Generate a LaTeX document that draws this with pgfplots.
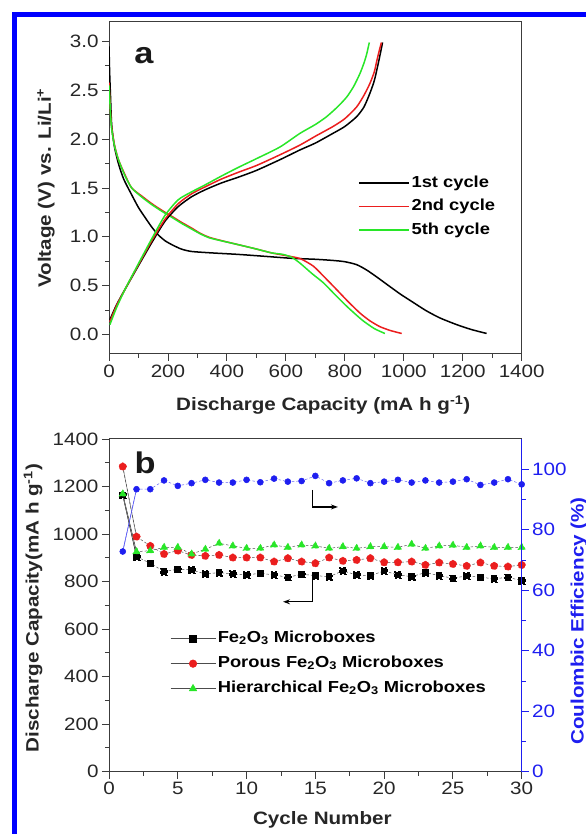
\documentclass[border=0pt]{standalone}
\usepackage{fontspec}
\setmainfont{Liberation Sans}[FakeStretch=1.15]
\usepackage{pgfplots}
\pgfplotsset{compat=1.18}
\usetikzlibrary{arrows.meta}

\definecolor{cred}{RGB}{235,30,30}
\definecolor{cgreen}{RGB}{40,230,40}
\definecolor{cblue}{RGB}{30,30,240}
\definecolor{axgray}{RGB}{60,60,60}
\definecolor{frameblue}{RGB}{0,0,255}

\pgfplotsset{
  panel/.style={
    scale only axis, width=412.7bp, anchor=south west,
    axis line style={axgray, line width=1bp},
    tick style={axgray, line width=0.9bp},
    major tick length=7bp, minor tick length=4bp,
    tick align=outside,
    xtick pos=bottom, ytick pos=left,
    tick label style={font=\fontsize{18}{20}\selectfont, text=black!85},
    label style={font=\fontsize{18}{20}\selectfont\bfseries, text=black!85},
    /pgf/number format/assume math mode=true,
    /pgf/number format/1000 sep={},
  },
  cyc/.style={line width=0.5bp, gray!60!black, dash pattern=on 2.5bp off 2bp,
    mark options={solid}},
}

\begin{document}
\begin{tikzpicture}
\useasboundingbox (0,0) rectangle (586bp,834bp);
\draw[frameblue, line width=5bp] (14.5bp,-20bp) -- (14.5bp,819bp) -- (610bp,819bp);

% ---------- panel a ----------
\begin{axis}[panel, height=332bp, at={(109bp,480bp)},
  xmin=0, xmax=1400, ymin=-0.2, ymax=3.2,
  xtick={0,200,...,1400}, minor x tick num=1,
  ytick={0,0.5,...,3}, minor y tick num=1,
  yticklabel style={/pgf/number format/.cd, fixed, fixed zerofill, precision=1},
  xlabel={Discharge Capacity (mA h g\textsuperscript{-1})},
  ylabel={Voltage (V) vs. Li/Li\textsuperscript{+}},
  xlabel style={at={(axis description cs:0.519,-0.154)}, anchor=center},
  ylabel style={at={(axis description cs:-0.153,0.5)}, anchor=center},
  legend style={at={(axis description cs:0.603,0.545)}, anchor=north west,
    draw=none, fill=none, inner sep=0pt, row sep=4bp,
    font=\fontsize{16}{18}\selectfont\bfseries,
    nodes={text height=12bp, text depth=3.5bp, inner sep=2bp}},
  legend cell align=left,
  legend image code/.code={\draw[#1] (0bp,0bp) -- (50bp,0bp);},
  every axis plot/.append style={line width=1.5bp, smooth, tension=0.4},
]
\addplot[black] coordinates {
(0,2.95)(2,2.7)(5,2.45)(9,2.15)(18,1.93)(32,1.75)(50,1.59)(77,1.43)(100,1.30)
(122,1.20)(145,1.10)(167,1.02)(190,0.96)(213,0.92)(245,0.875)(280,0.85)(350,0.835)
(438,0.82)(530,0.80)(619,0.78)(700,0.77)(760,0.758)(800,0.745)(840,0.715)(874,0.66)
(910,0.585)(953,0.49)(990,0.41)(1031,0.33)(1075,0.245)(1122,0.17)(1180,0.10)
(1230,0.05)(1281,0.01)};
\addlegendentry{1st cycle}
\addplot[cred] coordinates {
(0,2.58)(3,2.4)(8,2.15)(18,1.95)(32,1.79)(55,1.63)(77,1.50)(110,1.42)(145,1.34)
(180,1.27)(213,1.21)(245,1.15)(280,1.09)(310,1.035)(340,0.995)(380,0.962)(438,0.92)(500,0.875)
(552,0.835)(614,0.80)(650,0.775)(693,0.70)(730,0.59)(772,0.46)(810,0.34)(851,0.22)
(885,0.14)(919,0.08)(955,0.04)(993,0.01)};
\addlegendentry{2nd cycle}
\addplot[cgreen] coordinates {
(0,2.55)(3,2.38)(8,2.13)(18,1.94)(32,1.79)(55,1.62)(77,1.50)(110,1.41)(145,1.33)
(180,1.26)(213,1.20)(245,1.14)(280,1.08)(310,1.03)(340,0.99)(380,0.96)(438,0.92)(500,0.875)
(552,0.835)(590,0.82)(620,0.79)(648,0.73)(690,0.62)(727,0.53)(766,0.41)(806,0.29)
(835,0.21)(862,0.14)(900,0.06)(936,0.01)};
\addlegendentry{5th cycle}
\addplot[black, forget plot] coordinates {
(3,0.15)(25,0.30)(54,0.46)(99,0.70)(145,0.94)(190,1.16)(235,1.31)(280,1.41)
(325,1.48)(380,1.55)(438,1.61)(500,1.68)(580,1.79)(648,1.89)(700,1.96)(760,2.06)
(800,2.13)(840,2.23)(865,2.33)(885,2.47)(900,2.60)(913,2.77)(922,2.90)(928,2.99)};
\addplot[cred, forget plot] coordinates {
(3,0.13)(25,0.29)(54,0.46)(99,0.71)(145,0.96)(190,1.18)(235,1.34)(280,1.44)
(325,1.51)(380,1.59)(438,1.66)(500,1.73)(580,1.84)(648,1.94)(700,2.03)(760,2.13)
(800,2.21)(840,2.33)(865,2.45)(885,2.57)(900,2.69)(909,2.81)(918,2.92)(924,2.99)};
\addplot[cgreen, forget plot] coordinates {
(3,0.10)(25,0.27)(54,0.46)(99,0.72)(145,0.98)(190,1.22)(235,1.38)(280,1.46)
(325,1.53)(380,1.62)(438,1.71)(500,1.80)(580,1.92)(648,2.06)(700,2.15)(738,2.23)
(775,2.33)(806,2.43)(830,2.54)(851,2.67)(865,2.78)(874,2.87)(883,2.99)};
\end{axis}
\node[font=\fontsize{30}{30}\selectfont\bfseries, text=black!90] at (144bp,778bp) {a};

% ---------- panel b, capacity ----------
\begin{axis}[panel, height=332.7bp, at={(109bp,62.3bp)},
  xmin=0, xmax=30, ymin=0, ymax=1400,
  xtick={0,5,...,30}, minor x tick num=1,
  ytick={0,200,...,1400}, minor y tick num=1,
  xlabel={Cycle Number},
  ylabel={Discharge Capacity(mA h g\textsuperscript{-1})},
  xlabel style={at={(axis description cs:0.517,-0.145)}, anchor=center},
  ylabel style={at={(axis description cs:-0.184,0.492)}, anchor=center},
  legend style={at={(axis description cs:0.148,0.432)}, anchor=north west,
    draw=none, fill=none, inner sep=0pt, row sep=4bp,
    font=\fontsize{16}{18}\selectfont\bfseries,
    nodes={text height=12bp, text depth=5bp, inner sep=2bp}},
  legend cell align=left,
  legend image code/.code={\draw[mark repeat=2, mark phase=2, #1, solid]
    plot coordinates {(0bp,0bp) (22.5bp,0bp) (45bp,0bp)};},
]
\addplot[black!80, line width=0.6bp, forget plot] coordinates {(1,1164)(2,905)};
\addplot[gray, line width=0.6bp, forget plot] coordinates {(1,1284)(2,989)};
\addplot[gray, line width=0.6bp, forget plot] coordinates {(1,1169)(2,926)};
\addplot[cyc, mark=square*, mark size=3.3bp, mark options={fill=black, draw=black}] coordinates {
(1,1164)(2,905)(3,877)(4,842)(5,852)(6,849)(7,832)(8,838)(9,832)(10,828)
(11,835)(12,828)(13,818)(14,831)(15,825)(16,821)(17,845)(18,828)(19,825)(20,845)
(21,828)(22,821)(23,838)(24,825)(25,814)(26,824)(27,818)(28,812)(29,818)(30,804)};
\addlegendentry{Fe\textsubscript{2}O\textsubscript{3} Microboxes}
\addplot[cyc, mark=*, mark size=3.8bp, mark options={fill=cred, draw=cred}] coordinates {
(1,1284)(2,989)(3,950)(4,916)(5,930)(6,912)(7,908)(8,912)(9,901)(10,901)
(11,901)(12,884)(13,898)(14,884)(15,877)(16,901)(17,887)(18,891)(19,898)(20,881)
(21,881)(22,884)(23,870)(24,880)(25,874)(26,866)(27,880)(28,866)(29,863)(30,870)};
\addlegendentry{Porous Fe\textsubscript{2}O\textsubscript{3} Microboxes}
\addplot[cyc, mark=triangle*, mark size=4.3bp, mark options={fill=cgreen, draw=cgreen}] coordinates {
(1,1169)(2,926)(3,930)(4,944)(5,944)(6,916)(7,936)(8,961)(9,950)(10,940)
(11,940)(12,954)(13,944)(14,954)(15,950)(16,940)(17,947)(18,940)(19,947)(20,947)
(21,944)(22,957)(23,940)(24,950)(25,953)(26,944)(27,950)(28,944)(29,944)(30,944)};
\addlegendentry{Hierarchical Fe\textsubscript{2}O\textsubscript{3} Microboxes}
\draw[black, line width=1.3bp, -{Stealth[length=7bp, width=5bp]}]
  (axis cs:14.77,1186) |- (axis cs:16.64,1114);
\draw[black, line width=1.3bp, -{Stealth[length=7bp, width=5bp]}]
  (axis cs:14.77,821) |- (axis cs:12.65,715);
\end{axis}

% ---------- panel b, coulombic efficiency ----------
\begin{axis}[panel, height=332.7bp, at={(109bp,62.3bp)},
  axis x line=none, axis y line*=right,
  xmin=0, xmax=30, ymin=0, ymax=110,
  ytick={0,20,...,100}, minor y tick num=1, ytick pos=right,
  y axis line style={cblue, line width=1bp},
  ytick style={cblue, line width=0.9bp},
  yticklabel style={text=cblue},
  ylabel={Coulombic Efficiency (\%)},
  ylabel style={at={(axis description cs:1.139,0.453)}, anchor=center, text=cblue},
]
\addplot[cblue!80, line width=0.6bp, forget plot] coordinates {(1,72.8)(2,93.4)};
\addplot[line width=0.5bp, cblue!70, dash pattern=on 2.5bp off 2bp,
  mark=*, mark size=3bp, mark options={solid, fill=cblue, draw=cblue}] coordinates {
(1,72.8)(2,93.4)(3,93.4)(4,96.3)(5,94.5)(6,95.4)(7,96.5)(8,95.6)(9,95.6)(10,96.5)
(11,95.7)(12,96.9)(13,95.9)(14,96.1)(15,97.8)(16,95.4)(17,96.3)(18,97.0)(19,95.4)(20,95.9)
(21,96.5)(22,95.6)(23,96.3)(24,95.6)(25,95.9)(26,96.7)(27,94.8)(28,95.6)(29,96.7)(30,95.0)};
\end{axis}
\node[font=\fontsize{30}{30}\selectfont\bfseries, text=black!90] at (145bp,371bp) {b};
\end{tikzpicture}
\end{document}
